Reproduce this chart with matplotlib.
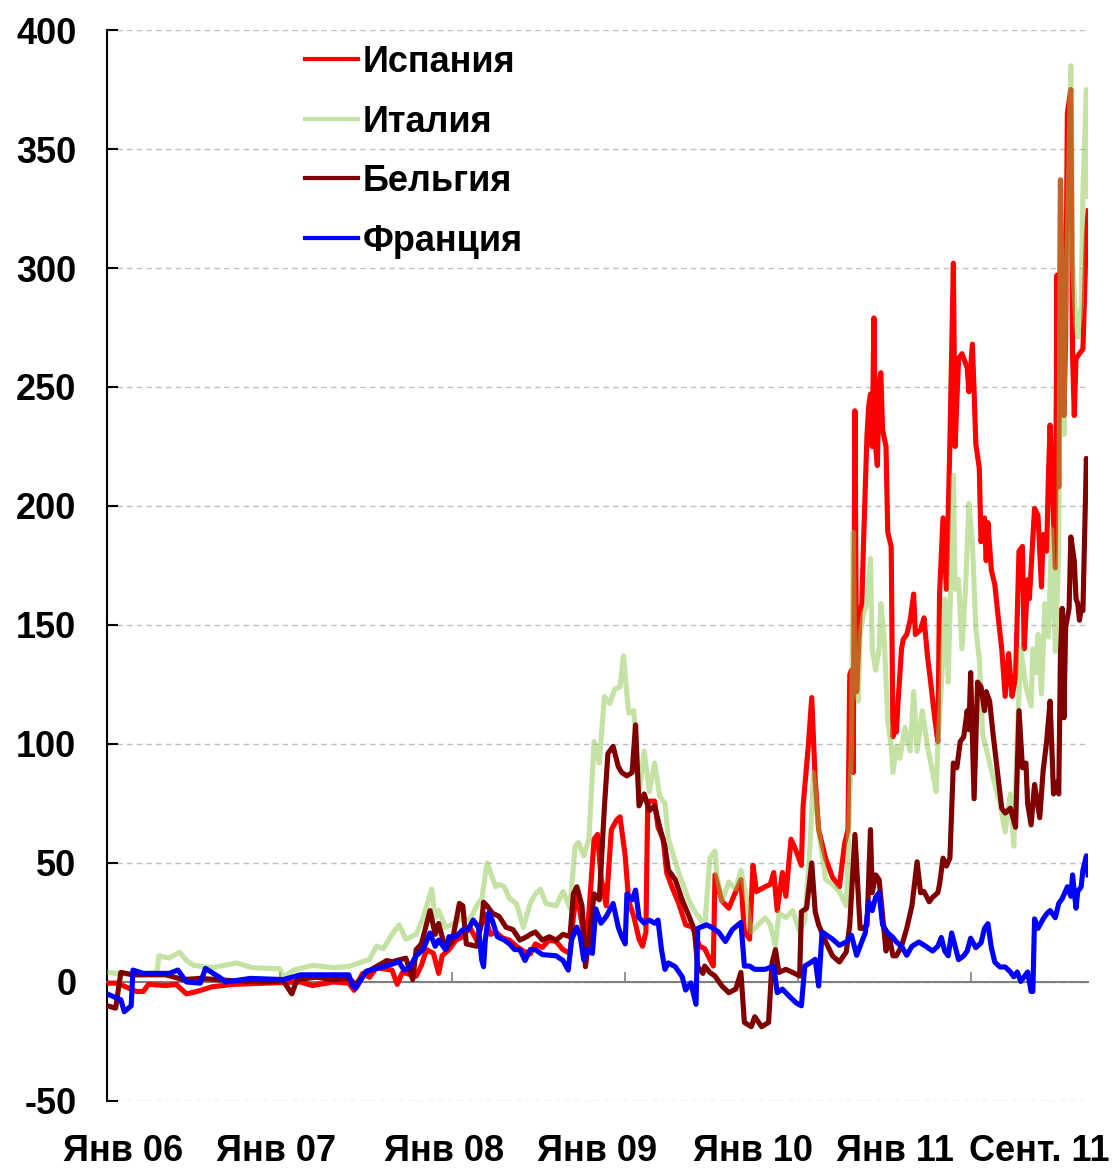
import matplotlib
matplotlib.use("Agg")
import matplotlib.pyplot as plt

plt.rcParams['font.family'] = ['Liberation Sans', 'DejaVu Sans']
plt.rcParams['font.weight'] = 'bold'
plt.rcParams['axes.unicode_minus'] = False

# time axis in decimal years
spain_t = [2006.00, 2006.06, 2006.17, 2006.21, 2006.24, 2006.34, 2006.40, 2006.46, 2006.52, 2006.61,
           2006.73, 2006.92, 2007.12, 2007.19, 2007.31, 2007.40, 2007.43, 2007.48, 2007.52, 2007.56,
           2007.65, 2007.68, 2007.71, 2007.79, 2007.82, 2007.85, 2007.89, 2007.92, 2007.94, 2007.98,
           2008.02, 2008.06, 2008.10, 2008.14, 2008.17, 2008.18, 2008.22, 2008.25, 2008.29, 2008.33,
           2008.37, 2008.41, 2008.45, 2008.48, 2008.52, 2008.56, 2008.60, 2008.64, 2008.68, 2008.70,
           2008.72, 2008.73, 2008.75, 2008.77, 2008.79, 2008.82, 2008.84, 2008.86, 2008.89, 2008.92,
           2008.95, 2008.97, 2009.00, 2009.02, 2009.05, 2009.08, 2009.10, 2009.12, 2009.13, 2009.14,
           2009.17, 2009.19, 2009.22, 2009.24, 2009.27, 2009.31, 2009.35, 2009.39, 2009.43, 2009.46,
           2009.49, 2009.51, 2009.52, 2009.56, 2009.60, 2009.64, 2009.67, 2009.69, 2009.72, 2009.74,
           2009.76, 2009.81, 2009.84, 2009.86, 2009.88, 2009.91, 2009.93, 2009.96, 2009.99, 2010.02,
           2010.03, 2010.06, 2010.08, 2010.10, 2010.12, 2010.16, 2010.20, 2010.24, 2010.27, 2010.29,
           2010.30, 2010.31, 2010.32, 2010.33, 2010.34, 2010.36, 2010.37, 2010.38, 2010.40, 2010.41,
           2010.42, 2010.43, 2010.44, 2010.45, 2010.46, 2010.47, 2010.48, 2010.49, 2010.51, 2010.52,
           2010.54, 2010.55, 2010.56, 2010.57, 2010.58, 2010.60, 2010.61, 2010.63, 2010.65, 2010.67,
           2010.68, 2010.71, 2010.73, 2010.75, 2010.77, 2010.79, 2010.81, 2010.82, 2010.84, 2010.86,
           2010.88, 2010.90, 2010.91, 2010.93, 2010.95, 2010.98, 2010.99, 2011.01, 2011.02, 2011.03,
           2011.05, 2011.06, 2011.08, 2011.09, 2011.10, 2011.12, 2011.14, 2011.16, 2011.18, 2011.20,
           2011.22, 2011.24, 2011.26, 2011.28, 2011.30, 2011.31, 2011.33, 2011.34, 2011.37, 2011.39,
           2011.41, 2011.42, 2011.44, 2011.45, 2011.46, 2011.48, 2011.49, 2011.50, 2011.51, 2011.52,
           2011.54, 2011.55, 2011.56, 2011.58, 2011.59, 2011.60, 2011.61, 2011.63, 2011.65, 2011.67,
           2011.68]
spain_v = [-0.5, -0.5, -4, -4, -1, -1.5, -1, -5, -4, -2,
           -1, -0.5, 0, -1.5, 0, -0.5, -3.5, 3.6, 2, 6,
           5, -1, 4, 2.5, 7, 13.6, 12, 3.6, 11, 13.6,
           17.6, 19, 23, 17.6, 24.6, 29, 20, 21, 18.5, 17.6,
           15, 13, 11.8, 16, 14.5, 17.6, 17, 13.6, 12, 27.5,
           37, 34, 24, 18, 29, 60, 62, 44, 32, 64,
           68, 69.4, 53, 34, 27.5, 18, 15, 21, 74, 76,
           76, 65, 60, 46, 40, 33, 24, 23, 15, 14,
           9.5, 6.7, 45, 34, 31, 38, 43, 21, 18, 49,
           38, 40, 41, 46, 30, 46, 36, 60, 55, 49,
           74, 99, 119.5, 85, 64, 52, 44, 40, 58, 64,
           129, 131, 88, 240, 122, 155, 159, 185, 230, 242,
           247, 225, 279, 225, 217, 251, 256, 232, 225, 189,
           183, 103, 112, 105, 118, 140, 144, 146, 152, 163,
           146, 148, 153, 137, 125, 112, 101, 163, 195, 165,
           227, 302, 225, 262, 264, 258, 248, 268, 248, 226,
           216, 185, 195, 177, 193, 173, 167, 153, 140, 120,
           138, 120, 128, 181, 183, 140, 169, 161, 199, 196,
           166, 188, 181, 212, 234, 194, 174, 297, 208, 337,
           238, 271, 365, 375, 264, 238, 262, 264, 266, 314,
           324]

italy_t = [2006.00, 2006.15, 2006.29, 2006.30, 2006.36, 2006.42, 2006.46, 2006.50, 2006.61, 2006.75,
           2006.84, 2007.00, 2007.02, 2007.08, 2007.19, 2007.31, 2007.40, 2007.46, 2007.52, 2007.56,
           2007.60, 2007.65, 2007.69, 2007.73, 2007.79, 2007.83, 2007.88, 2007.90, 2007.92, 2007.96,
           2008.02, 2008.06, 2008.10, 2008.14, 2008.17, 2008.20, 2008.22, 2008.25, 2008.27, 2008.30,
           2008.33, 2008.37, 2008.41, 2008.45, 2008.48, 2008.51, 2008.54, 2008.60, 2008.64, 2008.68,
           2008.69, 2008.71, 2008.73, 2008.76, 2008.79, 2008.82, 2008.85, 2008.88, 2008.91, 2008.94,
           2008.97, 2008.99, 2009.02, 2009.05, 2009.08, 2009.11, 2009.14, 2009.17, 2009.20, 2009.23,
           2009.25, 2009.28, 2009.31, 2009.34, 2009.37, 2009.40, 2009.43, 2009.46, 2009.49, 2009.52,
           2009.53, 2009.56, 2009.60, 2009.64, 2009.67, 2009.70, 2009.73, 2009.77, 2009.81, 2009.84,
           2009.87, 2009.89, 2009.93, 2009.97, 2010.01, 2010.04, 2010.07, 2010.09, 2010.12, 2010.16,
           2010.20, 2010.24, 2010.28, 2010.29, 2010.31, 2010.32, 2010.33, 2010.35, 2010.36, 2010.38,
           2010.40, 2010.42, 2010.43, 2010.45, 2010.47, 2010.48, 2010.50, 2010.52, 2010.54, 2010.55,
           2010.57, 2010.59, 2010.62, 2010.65, 2010.67, 2010.69, 2010.72, 2010.75, 2010.78, 2010.80,
           2010.81, 2010.83, 2010.85, 2010.87, 2010.90, 2010.91, 2010.93, 2010.95, 2010.97, 2010.99,
           2011.01, 2011.03, 2011.05, 2011.07, 2011.09, 2011.11, 2011.14, 2011.17, 2011.20, 2011.23,
           2011.25, 2011.27, 2011.29, 2011.32, 2011.35, 2011.36, 2011.38, 2011.39, 2011.41, 2011.43,
           2011.45, 2011.47, 2011.49, 2011.51, 2011.52, 2011.54, 2011.55, 2011.56, 2011.58, 2011.59,
           2011.61, 2011.62, 2011.64, 2011.65, 2011.67, 2011.68]
italy_v = [4, 3, 4, 11, 10, 12.5, 9, 7, 6, 8,
           6, 5.5, 2, 5, 7, 6, 6.5, 8, 9.5, 15,
           14, 20, 24, 18, 20, 27, 39, 27, 30, 23,
           25, 27, 26, 32, 35, 50, 46, 40, 41, 40,
           35, 33, 23, 33, 37, 39, 33, 32, 38, 31,
           40, 57, 58.6, 53, 60, 101, 92, 120, 117, 123,
           124, 137, 113, 114, 79, 97, 80, 92, 78, 75,
           60, 53, 46, 40, 34, 30, 27, 23, 52, 55,
           45, 34, 42, 39, 47, 36, 21, 24, 27, 24,
           15, 29, 27, 30, 21, 26, 57, 88, 64, 43,
           41, 38, 32, 54, 99, 189, 125, 118, 146, 155,
           159, 178, 140, 131, 140, 159, 144, 110, 99, 88,
           99, 94, 107, 97, 122, 97, 114, 99, 88, 80,
           99, 124, 161, 126, 213, 165, 169, 140, 165, 201,
           185, 148, 136, 104, 98, 92, 83, 75, 63, 79,
           57, 104, 140, 124, 116, 140, 130, 146, 121, 159,
           145, 190, 139, 180, 337, 230, 289, 314, 385, 302,
           276, 271, 284, 332, 375, 330]

belgium_t = [2006.00, 2006.05, 2006.08, 2006.15, 2006.25, 2006.34, 2006.44, 2006.54, 2006.73, 2006.92,
             2007.02, 2007.07, 2007.10, 2007.21, 2007.31, 2007.40, 2007.44, 2007.50, 2007.62, 2007.65,
             2007.73, 2007.77, 2007.79, 2007.82, 2007.87, 2007.90, 2007.92, 2007.96, 2008.00, 2008.04,
             2008.06, 2008.08, 2008.14, 2008.17, 2008.18, 2008.20, 2008.23, 2008.27, 2008.31, 2008.35,
             2008.39, 2008.43, 2008.45, 2008.48, 2008.52, 2008.56, 2008.60, 2008.64, 2008.68, 2008.70,
             2008.72, 2008.75, 2008.77, 2008.79, 2008.82, 2008.85, 2008.88, 2008.90, 2008.93, 2008.96,
             2008.98, 2009.01, 2009.04, 2009.06, 2009.08, 2009.11, 2009.14, 2009.17, 2009.20, 2009.23,
             2009.25, 2009.29, 2009.33, 2009.37, 2009.40, 2009.42, 2009.45, 2009.46, 2009.49, 2009.52,
             2009.56, 2009.60, 2009.64, 2009.67, 2009.69, 2009.73, 2009.75, 2009.79, 2009.83, 2009.85,
             2009.87, 2009.89, 2009.93, 2009.97, 2010.01, 2010.02, 2010.05, 2010.08, 2010.10, 2010.12,
             2010.16, 2010.20, 2010.24, 2010.28, 2010.30, 2010.33, 2010.35, 2010.36, 2010.38, 2010.40,
             2010.42, 2010.43, 2010.45, 2010.47, 2010.49, 2010.51, 2010.53, 2010.55, 2010.57, 2010.60,
             2010.63, 2010.66, 2010.69, 2010.71, 2010.73, 2010.76, 2010.78, 2010.81, 2010.82, 2010.84,
             2010.86, 2010.88, 2010.90, 2010.92, 2010.94, 2010.96, 2010.98, 2010.99, 2011.00, 2011.02,
             2011.04, 2011.06, 2011.08, 2011.09, 2011.11, 2011.13, 2011.16, 2011.18, 2011.20, 2011.23,
             2011.26, 2011.28, 2011.30, 2011.32, 2011.33, 2011.35, 2011.37, 2011.40, 2011.42, 2011.44,
             2011.46, 2011.48, 2011.50, 2011.51, 2011.52, 2011.53, 2011.54, 2011.55, 2011.57, 2011.58,
             2011.60, 2011.61, 2011.62, 2011.63, 2011.64, 2011.65, 2011.67, 2011.68]
belgium_v = [-10, -11, 4, 3, 3, 3, 1, 1.5, 0.5, 0,
             0.5, -5, 1, 2, 1, 1.5, -1, 4, 9, 8.5,
             10, 1, 13.6, 16, 30, 20, 24.6, 13.6, 17.6, 33,
             32, 16, 15, 26, 33.5, 32, 29, 27.5, 23, 22,
             17.6, 19, 20, 21, 17.6, 19, 17.6, 20, 19, 37,
             40, 32, 6.4, 18, 37, 34.5, 74, 96, 99, 90.5,
             88, 86.6, 88, 108, 74, 79, 72, 74, 65, 57,
             47, 43, 34.5, 27.5, 22, 6.4, 3.6, 6.7, 4, 2.5,
             -1.7, -4.5, -3, 4, -17, -18.8, -14.6, -18.8, -17, 8,
             13.6, 4, 5.3, 4, 2.5, 29.5, 31, 50, 29.5, 24,
             17, 11, 8.4, 12.6, 24, 62, 36, 22.5, 22.5, 24,
             64, 37.5, 45, 43, 28, 13, 18.7, 11, 11, 15,
             22.5, 32, 50.5, 37.5, 38, 33.7, 35.6, 37.5, 41, 52,
             48.7, 52, 92, 90, 101, 103, 114, 106, 130, 77,
             126, 124, 114, 122, 118, 104, 85.5, 73, 71, 73,
             65, 114, 90, 92, 75, 66, 83, 69, 89, 101,
             118, 79, 84, 79, 138, 157, 111, 149, 157, 187,
             177, 161, 159, 152, 157, 156, 220, 205]

france_t = [2006.00, 2006.08, 2006.10, 2006.14, 2006.15, 2006.21, 2006.36, 2006.41, 2006.46, 2006.54,
            2006.57, 2006.65, 2006.69, 2006.83, 2007.02, 2007.12, 2007.40, 2007.42, 2007.44, 2007.50,
            2007.60, 2007.65, 2007.69, 2007.72, 2007.75, 2007.79, 2007.83, 2007.87, 2007.90, 2007.92,
            2007.96, 2007.98, 2008.02, 2008.06, 2008.09, 2008.12, 2008.15, 2008.17, 2008.18, 2008.19,
            2008.21, 2008.23, 2008.26, 2008.30, 2008.33, 2008.36, 2008.39, 2008.42, 2008.45, 2008.48,
            2008.52, 2008.60, 2008.64, 2008.67, 2008.69, 2008.72, 2008.74, 2008.76, 2008.78, 2008.81,
            2008.83, 2008.86, 2008.89, 2008.93, 2008.96, 2008.98, 2009.00, 2009.01, 2009.04, 2009.06,
            2009.08, 2009.11, 2009.14, 2009.17, 2009.19, 2009.21, 2009.23, 2009.25, 2009.29, 2009.33,
            2009.35, 2009.38, 2009.41, 2009.42, 2009.47, 2009.50, 2009.54, 2009.58, 2009.62, 2009.67,
            2009.69, 2009.72, 2009.75, 2009.81, 2009.86, 2009.88, 2009.91, 2009.95, 2009.99, 2010.02,
            2010.04, 2010.07, 2010.10, 2010.12, 2010.14, 2010.20, 2010.24, 2010.28, 2010.31, 2010.34,
            2010.37, 2010.39, 2010.41, 2010.43, 2010.45, 2010.47, 2010.49, 2010.52, 2010.55, 2010.57,
            2010.60, 2010.63, 2010.66, 2010.70, 2010.74, 2010.78, 2010.81, 2010.83, 2010.85, 2010.87,
            2010.89, 2010.91, 2010.93, 2010.96, 2010.98, 2011.00, 2011.03, 2011.06, 2011.08, 2011.10,
            2011.12, 2011.14, 2011.17, 2011.20, 2011.23, 2011.25, 2011.27, 2011.29, 2011.31, 2011.33,
            2011.35, 2011.36, 2011.37, 2011.39, 2011.42, 2011.44, 2011.46, 2011.49, 2011.51, 2011.53,
            2011.56, 2011.58, 2011.59, 2011.61, 2011.62, 2011.64, 2011.65, 2011.67, 2011.68]
france_v = [-5, -7.5, -12.5, -10, 5, 3.6, 3.6, 5, 0, -0.5,
            5.7, 2, 0, 1.5, 1, 3, 3, -1.3, -2.7, 4.5,
            6.4, 7.5, 8.5, 5, 6, 11, 13.6, 20.6, 15, 17.6,
            13.6, 19, 19, 22, 22, 26, 23, 9, 6.4, 17.6,
            29, 26, 19, 17.6, 16, 13.6, 13.6, 9, 13.6, 13.6,
            11.5, 11, 9, 5, 17.8, 23, 19, 9.2, 13.6, 12,
            30.7, 24.7, 27.5, 33, 23, 19, 16, 37, 34.5, 38.6,
            27, 24.7, 26, 24.7, 26, 13.6, 5.3, 8, 6.4, 2.2,
            -3.4, -0.4, -9.4, 22.5, 24, 23, 21, 17, 22, 25,
            6.7, 6.7, 5.3, 5.3, 6.7, -4.5, -3, -6, -8.8, -10,
            6.7, 8, 9.5, -1.7, 21, 18, 15.4, 16.8, 19.6, 11.2,
            17, 20.6, 33.7, 30, 35.6, 37.5, 24, 20.6, 18.7, 16.8,
            15, 11.2, 15, 16.8, 15, 13, 15, 18.7, 13, 11,
            20.6, 15, 9.4, 11, 13, 18.4, 14.4, 16.4, 22.5, 24.5,
            14.4, 8.3, 6.3, 6.3, 4.2, 2.2, 4.2, 0.2, 2.2, 4.2,
            -4, -4, 26.5, 22.5, 26.5, 28.6, 30, 27, 33, 35,
            40, 36, 45, 31, 38, 40, 47, 53, 45]

year_ticks = [2006, 2007, 2008, 2009, 2010, 2011]
label_pos = [2006.09, 2006.98, 2007.95, 2008.84, 2009.74, 2010.56, 2011.40]
label_text = ['Янв 06', 'Янв 07', 'Янв 08', 'Янв 09', 'Янв 10', 'Янв 11', 'Сент. 11']

fig = plt.figure(figsize=(11.16, 11.68), dpi=100)
ax = fig.add_axes([0.0959, 0.0574, 0.8791, 0.9169])

lw = 3.7
ax.plot(spain_t, spain_v, color='#FF0000', lw=lw, label='Испания', zorder=3)
ax.plot(italy_t, italy_v, color='#8BC749', alpha=0.5, lw=lw, label='Италия', zorder=4)
ax.plot(belgium_t, belgium_v, color='#800000', lw=lw, label='Бельгия', zorder=5)
ax.plot(france_t, france_v, color='#0000FF', lw=lw, label='Франция', zorder=6)

ax.set_xlim(2006.0, 2011.68)
ax.set_ylim(-50, 400)
ax.set_yticks(range(-50, 401, 50))
ax.yaxis.grid(True, linestyle=(0, (4, 3)), color='#BFBFBF', lw=1.0)
ax.set_axisbelow(True)

for s in ['top', 'right']:
    ax.spines[s].set_visible(False)
ax.spines['left'].set_linewidth(1.5)
ax.spines['bottom'].set_position(('data', 0))
ax.spines['bottom'].set_color('#808080')
ax.spines['bottom'].set_linewidth(1.5)

ax.tick_params(axis='y', direction='in', length=8, width=1.5, labelsize=26, pad=22)
ax.set_xticks(year_ticks)
ax.tick_params(axis='x', direction='in', length=7, width=1.2, color='#808080', labelbottom=False)

sec = ax.secondary_xaxis('bottom')
sec.set_xticks(label_pos, labels=label_text)
sec.tick_params(length=0, labelsize=26, pad=24)
sec.spines['bottom'].set_visible(False)

leg = ax.legend(loc='upper left', bbox_to_anchor=(0.202, 0.986), frameon=False,
                prop={'size': 26, 'weight': 'bold'}, handlelength=1.45, handletextpad=0.15,
                labelspacing=0.68, borderpad=0, borderaxespad=0)
for h in leg.get_lines():
    h.set_linewidth(3.0)

fig.savefig('out.png', dpi=100)
